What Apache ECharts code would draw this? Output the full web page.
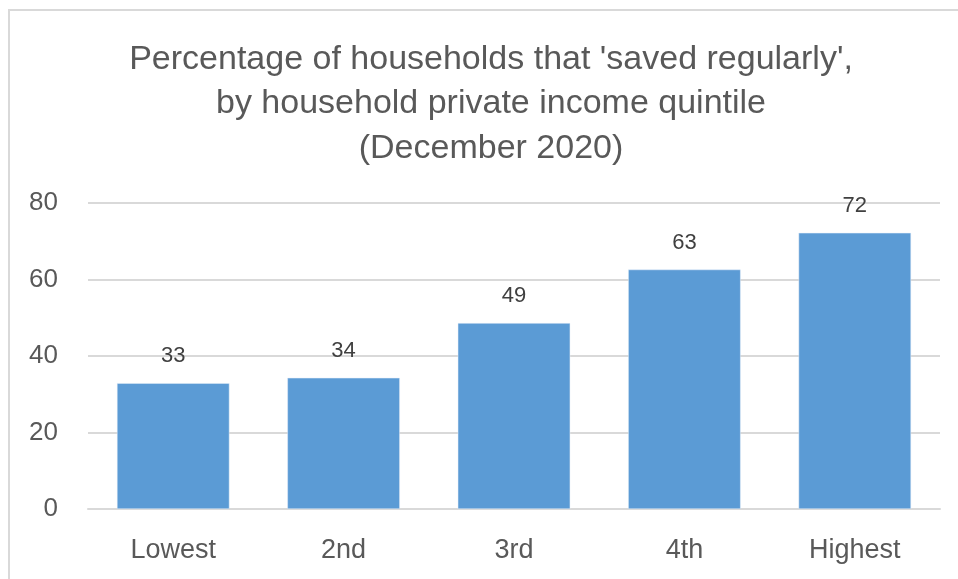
<!DOCTYPE html>
<html>
<head>
<meta charset="utf-8">
<script src="https://cdn.jsdelivr.net/npm/echarts@6/dist/echarts.min.js"></script>
<style>
  html, body { margin: 0; padding: 0; background: #fff; }
  #app { width: 958px; height: 579px; }
  #frame { position: absolute; left: 8px; top: 9px; width: 960px; height: 600px; border: 2px solid #d9d9d9; box-sizing: border-box; pointer-events: none; }
</style>
</head>
<body>
<div id="app"></div>
<div id="frame"></div>
<script>
const categories = ['Lowest', '2nd', '3rd', '4th', 'Highest']
const savedRegularly = [32.9, 34.3, 48.6, 62.6, 72.2]
const yTicks = { min: 0, max: 80, interval: 20 }

const fontFamily = '"Liberation Sans", Arial, sans-serif'
const echart = echarts.init(document.getElementById('app'))

echart.setOption({
  animation: false,
  title: {
    text: "Percentage of households that 'saved regularly',\nby household private income quintile\n(December 2020)",
    left: 486,
    textAlign: 'center',
    top: 32,
    textStyle: {
      color: '#595959',
      fontSize: 34,
      fontWeight: 'normal',
      fontFamily: fontFamily,
      lineHeight: 44.5
    }
  },
  grid: {
    left: 88,
    right: 18,
    top: 203,
    bottom: 70
  },
  xAxis: {
    type: 'category',
    data: categories,
    axisLine: { lineStyle: { color: '#d9d9d9', width: 2 } },
    axisTick: { show: false },
    axisLabel: {
      color: '#595959',
      fontSize: 27,
      fontFamily: fontFamily,
      margin: 28
    }
  },
  yAxis: {
    type: 'value',
    min: yTicks.min,
    max: yTicks.max,
    interval: yTicks.interval,
    axisLine: { show: false },
    axisTick: { show: false },
    splitLine: { lineStyle: { color: '#d9d9d9', width: 2 } },
    axisLabel: {
      color: '#595959',
      fontSize: 26,
      fontFamily: fontFamily,
      margin: 30
    }
  },
  series: [
    {
      type: 'bar',
      data: savedRegularly,
      barCategoryGap: '34%',
      itemStyle: {
        color: '#5b9bd5',
        borderColor: '#e6eef8',
        borderWidth: 0.5
      },
      label: {
        show: true,
        position: 'top',
        distance: 16,
        color: '#404040',
        fontSize: 22,
        fontFamily: fontFamily,
        formatter: p => Math.round(p.value)
      }
    }
  ]
})
</script>
</body>
</html>
